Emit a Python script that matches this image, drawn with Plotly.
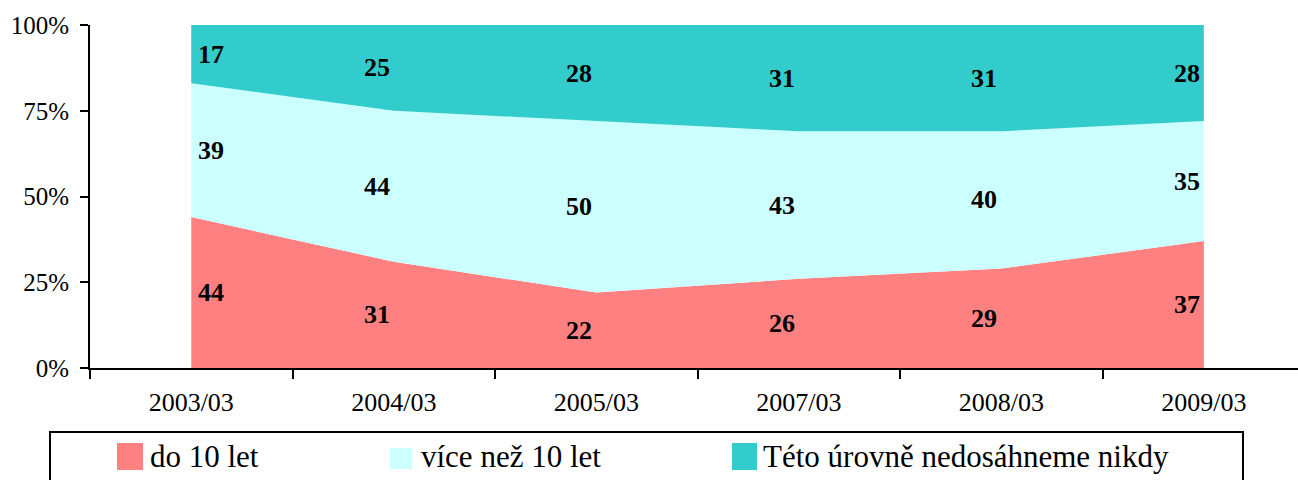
import plotly.graph_objects as go

categories = ["2003/03", "2004/03", "2005/03", "2007/03", "2008/03", "2009/03"]
series_names = ["do 10 let", "více než 10 let", "Této úrovně nedosáhneme nikdy"]
do_10_let = [44, 31, 22, 26, 29, 37]
vice_nez_10_let = [39, 44, 50, 43, 40, 35]
nikdy = [17, 25, 28, 31, 31, 28]
y_ticks = [0, 25, 50, 75, 100]

colors = ["#FF8080", "#CCFFFF", "#33CCCC"]
series_values = [do_10_let, vice_nez_10_let, nikdy]

FONT = "Liberation Serif"
W, H = 1298, 480
L, R, T, B = 90, 0, 25, 112
PW = W - L - R
PH = H - T - B

def px(xp):
    return (xp - L) / PW

def py(yp):
    return (H - B - yp) / PH

fig = go.Figure()
for name, vals, col in zip(series_names, series_values, colors):
    fig.add_trace(go.Scatter(
        x=categories, y=vals, name=name, mode="lines",
        stackgroup="one", line=dict(width=0, color=col),
        fillcolor=col, showlegend=False, hoverinfo="skip"))

annotations = []
# data labels at the middle of each stacked band
for i, cat in enumerate(categories):
    base = 0
    for vals in series_values:
        v = vals[i]
        mid = base + v / 2
        base += v
        annotations.append(dict(
            x=cat, y=mid, xref="x", yref="y", text=f"<b>{v}</b>",
            showarrow=False, xshift=(20 if i == 0 else -17),
            font=dict(family=FONT, size=26, color="black")))

shapes = []
# legend box
shapes.append(dict(type="rect", xref="paper", yref="paper",
                   x0=px(50), x1=px(1243), y0=py(520), y1=py(432),
                   line=dict(color="black", width=2), fillcolor="rgba(0,0,0,0)"))
sw = [(117, 143, 443, 470), (390, 412, 448, 469), (732, 757, 443, 470)]
tx = [148, 419, 761]
for (x0, x1, y0, y1), col, name, t in zip(sw, colors, series_names, tx):
    shapes.append(dict(type="rect", xref="paper", yref="paper",
                       x0=px(x0), x1=px(x1), y0=py(y1), y1=py(y0),
                       line=dict(width=0), fillcolor=col))
    annotations.append(dict(x=px(t), y=py(457), xref="paper", yref="paper",
                            xanchor="left", yanchor="middle", showarrow=False,
                            text=name, font=dict(family=FONT, size=31, color="black")))

fig.update_layout(
    width=W, height=H,
    margin=dict(l=L, r=R, t=T, b=B, autoexpand=False),
    paper_bgcolor="white", plot_bgcolor="white",
    showlegend=False,
    annotations=annotations, shapes=shapes,
    font=dict(family=FONT, color="black"),
    xaxis=dict(type="category", range=[-0.5, 5.465], tickson="boundaries",
               ticks="outside", ticklen=9, tickwidth=1.5, tickcolor="black",
               showline=True, linecolor="black", linewidth=2,
               showgrid=False, zeroline=False, automargin=False,
               tickfont=dict(family=FONT, size=26, color="black"),
               ticklabelstandoff=10),
    yaxis=dict(range=[0, 100], tickvals=y_ticks,
               ticktext=[f"{v}%" for v in y_ticks],
               ticks="outside", ticklen=8, tickwidth=1.5, tickcolor="black",
               showline=True, linecolor="black", linewidth=2,
               showgrid=False, zeroline=False, automargin=False,
               tickfont=dict(family=FONT, size=25, color="black"),
               ticklabelstandoff=6),
)

fig.write_html("out.html", config={"displayModeBar": False},
               post_script="document.body.style.margin='0';document.body.style.overflow='hidden';")
